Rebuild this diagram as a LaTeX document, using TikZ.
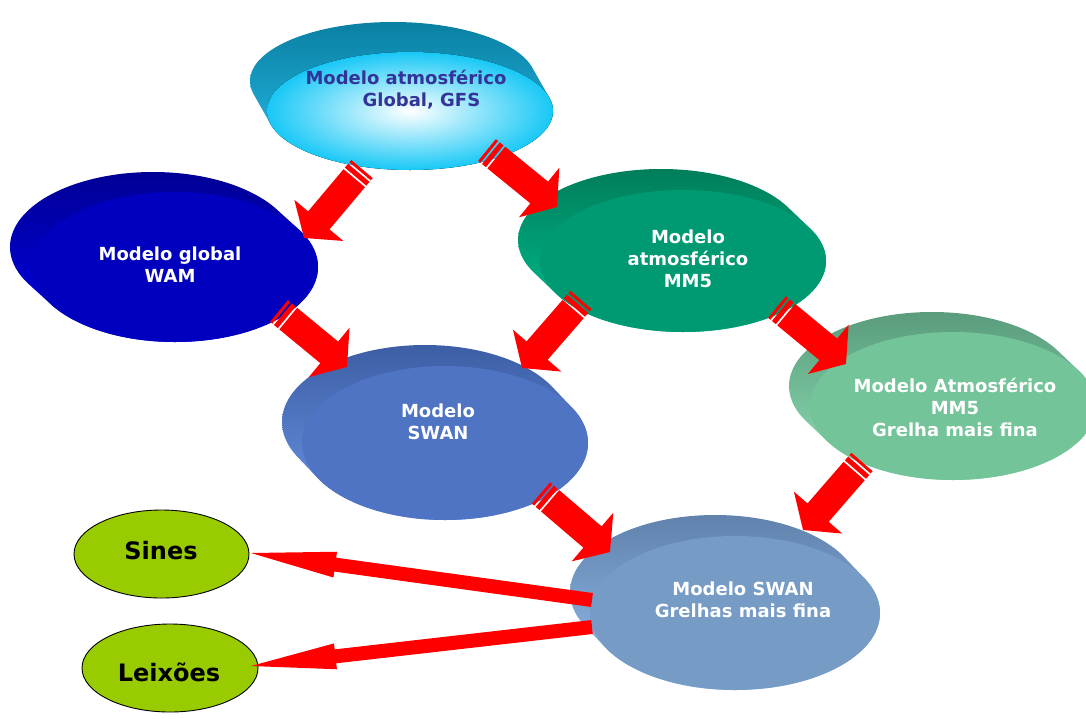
\documentclass[tikz,border=0pt]{standalone}
\usepackage{fontspec}
\setmainfont{DejaVu Sans}
\usetikzlibrary{shapes.geometric}
\definecolor{arrowred}{RGB}{255,0,0}
\definecolor{txtblue}{RGB}{51,51,153}
\definecolor{cyanF}{RGB}{24,200,246}
\definecolor{cyanT}{RGB}{10,128,162}
\definecolor{cyanB}{RGB}{40,190,236}
\definecolor{wamF}{RGB}{0,0,190}
\definecolor{wamT}{RGB}{0,0,150}
\definecolor{wamB}{RGB}{0,0,230}
\definecolor{mmF}{RGB}{0,154,114}
\definecolor{mmT}{RGB}{0,126,90}
\definecolor{mmB}{RGB}{0,192,144}
\definecolor{lgF}{RGB}{116,196,154}
\definecolor{lgT}{RGB}{90,156,124}
\definecolor{lgB}{RGB}{144,224,184}
\definecolor{swF}{RGB}{79,116,196}
\definecolor{swT}{RGB}{60,94,164}
\definecolor{swB}{RGB}{108,150,232}
\definecolor{sfF}{RGB}{118,155,197}
\definecolor{sfT}{RGB}{96,130,172}
\definecolor{sfB}{RGB}{150,192,240}
\definecolor{limeF}{RGB}{153,204,0}
\tikzset{
  lbl/.style={font=\bfseries\fontsize{18}{22}\selectfont, inner sep=0pt, align=center, text=white},
  city/.style={draw=black, line width=0.9pt, fill=limeF, ellipse, inner sep=0pt},
  citytxt/.style={font=\bfseries\fontsize{24}{28}\selectfont, inner sep=0pt, text=black},
}
% extruded ellipse: back x,y ; front x,y ; rx ; ry ; top colour ; bottom colour
\newcommand{\extrude}[8]{%
  \shade[top color=#7,bottom color=#8]
    \foreach \i in {0,...,16}{ ({#1+(#3-#1)*\i/16},{#2+(#4-#2)*\i/16}) ellipse[x radius=#5pt,y radius=#6pt] };}
\newcommand{\stripedarrow}[2]{%
  \pgfpointanchor{#1}{center}\pgfgetlastxy{\sax}{\say}%
  \pgfpointanchor{#2}{center}\pgfgetlastxy{\sbx}{\sby}%
  \pgfmathsetmacro{\sang}{atan2((\sby)-(\say),(\sbx)-(\sax))}%
  \pgfmathsetmacro{\slen}{veclen((\sbx)-(\sax),(\sby)-(\say))}%
  \pgfmathsetmacro{\shb}{\slen-23}%
  \begin{scope}[shift={(#1)},rotate=\sang]
    \fill[arrowred] (0pt,-14pt) rectangle (3pt,14pt);
    \fill[arrowred] (5pt,-14pt) rectangle (10pt,14pt);
    \fill[arrowred] (12pt,-14pt) -- (\shb pt,-14pt) -- (\shb pt,-32pt) -- (\slen pt,0pt)
      -- (\shb pt,32pt) -- (\shb pt,14pt) -- (12pt,14pt) -- cycle;
  \end{scope}}
\newcommand{\plainarrow}[2]{%
  \pgfpointanchor{#1}{center}\pgfgetlastxy{\sax}{\say}%
  \pgfpointanchor{#2}{center}\pgfgetlastxy{\sbx}{\sby}%
  \pgfmathsetmacro{\sang}{atan2((\sby)-(\say),(\sbx)-(\sax))}%
  \pgfmathsetmacro{\slen}{veclen((\sbx)-(\sax),(\sby)-(\say))}%
  \pgfmathsetmacro{\shb}{\slen-85}%
  \begin{scope}[shift={(#1)},rotate=\sang]
    \fill[arrowred] (0pt,-7pt) -- (\shb pt,-7pt) -- (\shb pt,-13pt) -- (\slen pt,0pt)
      -- (\shb pt,13pt) -- (\shb pt,7pt) -- (0pt,7pt) -- cycle;
  \end{scope}}
\begin{document}
\begin{tikzpicture}[x=1pt,y=-1pt]
\useasboundingbox (0,0) rectangle (1086,718);
\clip (0,0) rectangle (1086,718);
% Global GFS
\extrude{393}{81}{410}{111}{143}{59}{cyanT}{cyanB}
\fill[inner color=white, outer color=cyanF] (410,111) ellipse[x radius=143pt,y radius=59pt];
% WAM
\extrude{153}{247}{175}{267}{143}{75}{wamT}{wamB}
\fill[wamF] (175,267) ellipse[x radius=143pt,y radius=75pt];
% MM5
\extrude{661}{240}{683}{261}{143}{71}{mmT}{mmB}
\fill[mmF] (683,261) ellipse[x radius=143pt,y radius=71pt];
% SWAN
\extrude{425}{422}{445}{443}{143}{77}{swT}{swB}
\fill[swF] (445,443) ellipse[x radius=143pt,y radius=77pt];
% MM5 fine
\extrude{932}{386}{953}{406}{143}{74}{lgT}{lgB}
\fill[lgF] (953,406) ellipse[x radius=143pt,y radius=74pt];
% SWAN fine
\extrude{715}{592}{735}{613}{145}{77}{sfT}{sfB}
\fill[sfF] (735,613) ellipse[x radius=145pt,y radius=77pt];
% labels
\node[lbl, text=txtblue, align=left] (gfs) at (406,90) {Modelo atmosférico\\\hspace*{57pt}Global, GFS};
\node[lbl] (wam) at (170,265) {Modelo global\\WAM};
\node[lbl] (mm5) at (688,259) {Modelo\\atmosférico\\MM5};
\node[lbl] (swan) at (438,422) {Modelo\\SWAN};
\node[lbl] (mm5f) at (955,407) {Modelo Atmosférico\\MM5\\Grelha mais fina};
\node[lbl] (swanf) at (743,600) {Modelo SWAN\\Grelhas mais fina};
% cities
\node[city, minimum width=175pt, minimum height=88pt] (sines) at (161.5,554) {};
\node[citytxt] (sinestxt) at (161,550.5) {Sines};
\node[city, minimum width=176pt, minimum height=88pt] (leix) at (170,668) {};
\node[citytxt] (leixtxt) at (169,672) {Leixões};
% arrow end points
\coordinate (a1s) at (362,169); \coordinate (a1e) at (304,238);
\coordinate (a2s) at (487,150); \coordinate (a2e) at (557,207);
\coordinate (a3s) at (581,300); \coordinate (a3e) at (522,368);
\coordinate (a4s) at (777,307); \coordinate (a4e) at (846,364);
\coordinate (a5s) at (279,311); \coordinate (a5e) at (347,367);
\coordinate (a6s) at (541,493); \coordinate (a6e) at (610,552);
\coordinate (a7s) at (862,462); \coordinate (a7e) at (803,530);
\coordinate (b1s) at (592,600); \coordinate (b1e) at (251,553);
\coordinate (b2s) at (592,627); \coordinate (b2e) at (251,666);
\stripedarrow{a1s}{a1e}
\stripedarrow{a2s}{a2e}
\stripedarrow{a3s}{a3e}
\stripedarrow{a4s}{a4e}
\stripedarrow{a5s}{a5e}
\stripedarrow{a6s}{a6e}
\stripedarrow{a7s}{a7e}
\plainarrow{b1s}{b1e}
\plainarrow{b2s}{b2e}
\end{tikzpicture}
\end{document}
